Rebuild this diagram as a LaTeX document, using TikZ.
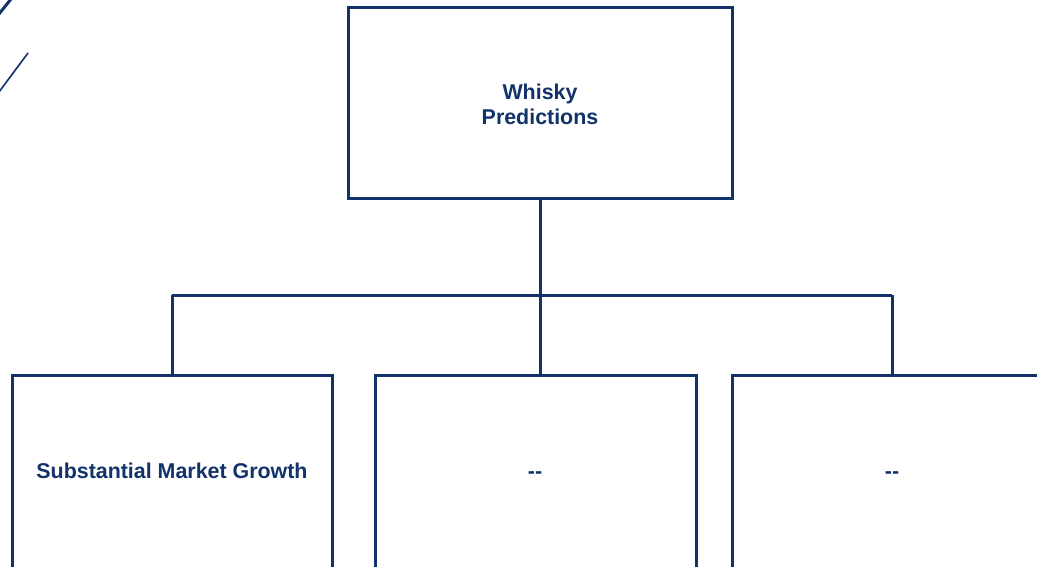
\documentclass[tikz,border=0pt]{standalone}
\usepackage{fontspec}
\setmainfont{Liberation Sans}
\definecolor{navy}{HTML}{12326B}
\begin{document}
\begin{tikzpicture}[x=1pt,y=-1pt,
  boxstyle/.style={draw=navy,line width=3pt,fill=white,inner sep=0pt,outer sep=0pt,anchor=north west},
  labelstyle/.style={text=navy,font=\bfseries\fontsize{21.4}{25}\selectfont,align=center},
  wire/.style={draw=navy,line width=3pt}]
\useasboundingbox (0,0) rectangle (1037,566);
\clip (0,0) rectangle (1037,566);
\fill[white] (0,0) rectangle (1037,566);
% corner decoration
\draw[navy,line width=3pt] (11,-1) -- (-1,14);
\draw[navy,line width=1.6pt] (28,53) -- (-1,92);
% boxes
\node[boxstyle,minimum width=384pt,minimum height=191pt] (top) at (348,7) {};
\node[boxstyle,minimum width=320pt,minimum height=240pt] (b1) at (12,375) {};
\node[boxstyle,minimum width=321pt,minimum height=240pt] (b2) at (375,375) {};
\node[boxstyle,minimum width=340pt,minimum height=240pt] (b3) at (732,375) {};
% labels
\node[labelstyle] (tl) at (540,104) {Whisky\\Predictions};
\node[labelstyle,anchor=base] (l1) at (172,478) {Substantial Market Growth};
\node[labelstyle,anchor=base] (l2) at (535,478) {-{}-};
\node[labelstyle,anchor=base] (l3) at (892,478) {-{}-};
% connectors
\coordinate (bar) at (top.south |- 0,295);
\coordinate (j1) at (172,295);
\coordinate (j3) at (892,295);
\draw[wire] (top.south) -- (bar);
\draw[wire] (j1) -- (j3);
\draw[wire] (j1) -- (j1 |- b1.north);
\draw[wire] (bar) -- (bar |- b2.north);
\draw[wire] (j3) -- (j3 |- b3.north);
\end{tikzpicture}
\end{document}
